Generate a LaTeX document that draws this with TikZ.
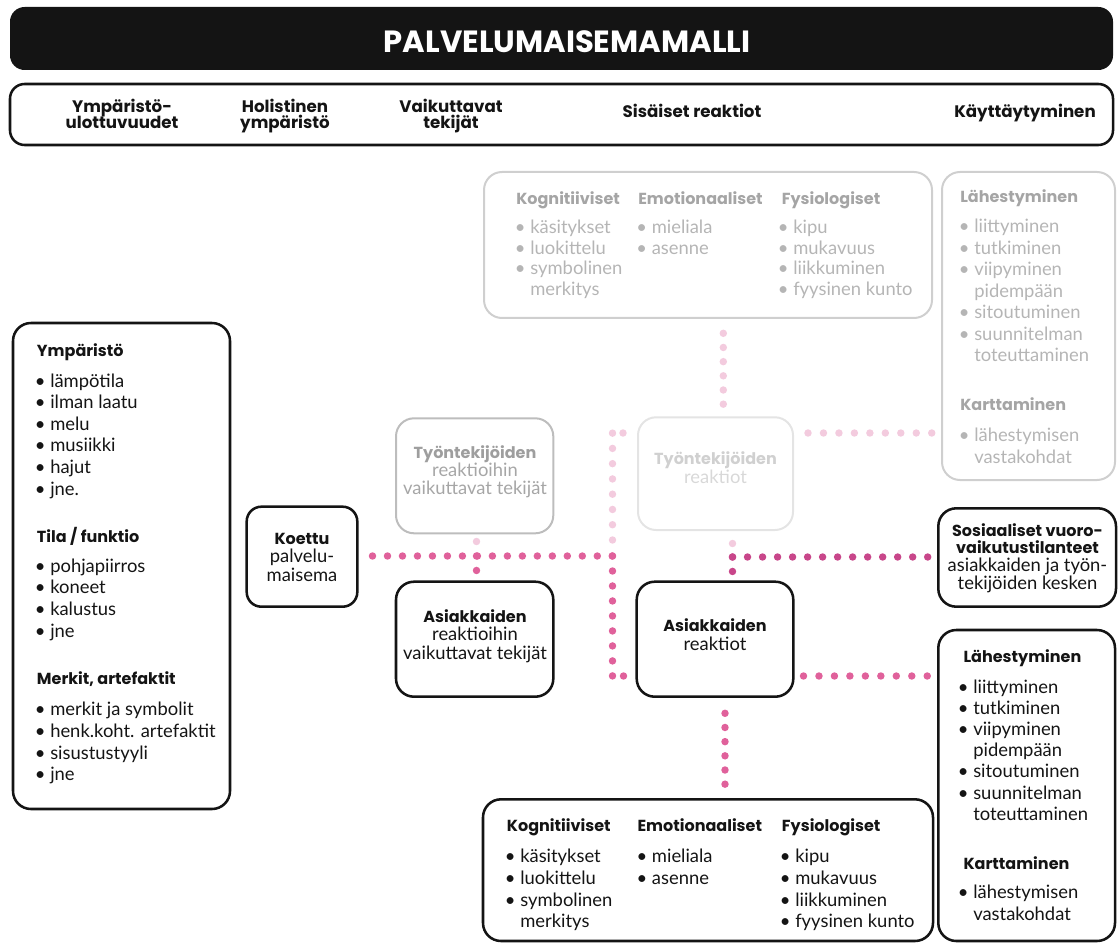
\documentclass[tikz,border=0pt]{standalone}
\usepackage{fontspec}
\setmainfont{Lato}
\newfontfamily\pop{Poppins}
\definecolor{ink}{HTML}{141414}
\definecolor{pinkA}{HTML}{E0619B}
\definecolor{pinkB}{HTML}{C8468A}
\definecolor{pinkL}{HTML}{F3CBDE}
\definecolor{gBorder}{HTML}{CFCFCF}
\definecolor{gHead}{HTML}{A5A5A5}
\definecolor{gText}{HTML}{B5B5B5}
\definecolor{gtBorder}{HTML}{BDBDBD}
\definecolor{gtHead}{HTML}{9E9E9E}
\definecolor{gtText}{HTML}{A6A6A6}
\definecolor{gxBorder}{HTML}{E4E4E4}
\definecolor{gxHead}{HTML}{D0D0D0}
\definecolor{gxText}{HTML}{D8D8D8}
\newcommand\bi[1]{\llap{•\hspace{3.5pt}}#1}
\newcommand\bx[6]{\node[#2, minimum width={(#5-#3)*0.75pt}, minimum height={(#6-#4)*0.75pt}, inner sep=0pt] (#1) at ({(#3+#5)/2},{(#4+#6)/2}) {};}
\newcommand\lst[6]{\foreach \itx [count=\i] in {#6} {\node[#1, anchor=base west] (#2\i) at (#3,{#4+(\i-1)*#5}) {\itx};}}
\begin{document}
\begin{tikzpicture}[x=0.75pt,y=-0.75pt,
  blackbox/.style={draw=ink, line width=1.9pt, rounded corners=13.5pt},
  graybox/.style={draw=gBorder, line width=1.5pt, rounded corners=13.5pt},
  gtbox/.style={draw=gtBorder, line width=1.5pt, rounded corners=13.5pt},
  gxbox/.style={draw=gxBorder, line width=1.5pt, rounded corners=13.5pt},
  hd/.style={font=\pop\bfseries\fontsize{12}{14}\selectfont, inner sep=0pt, text=ink},
  th/.style={font=\pop\bfseries\fontsize{12.5}{14}\selectfont, inner sep=0pt, text=ink, anchor=base},
  bd/.style={font=\fontsize{13.8}{16}\selectfont, inner sep=0pt, text=ink},
  dA/.style={draw=pinkA, line width=5.6pt, line cap=round, dash pattern=on 0pt off 11.2pt},
  dB/.style={draw=pinkB, line width=5.6pt, line cap=round, dash pattern=on 0pt off 11.2pt},
  dL/.style={draw=pinkL, line width=5.6pt, line cap=round, dash pattern=on 0pt off 11.2pt}]
\useasboundingbox (0,0) rectangle (1119,944);

% title
\bx{titlebar}{fill=ink, rounded corners=11pt}{10}{7}{1113}{70}
\node[font=\pop\bfseries\fontsize{23}{27}\selectfont, text=white, inner sep=0pt, anchor=base] (title) at (567,53) {PALVELUMAISEMAMALLI};

% header bar
\bx{header}{draw=ink, line width=1.9pt, rounded corners=11pt}{10}{84}{1113}{145}
\node[th] (h1a) at (122,112.5) {Ympäristö-};
\node[th] (h1b) at (122,128.5) {ulottuvuudet};
\node[th] (h2a) at (285,112.5) {Holistinen};
\node[th] (h2b) at (285,128.5) {ympäristö};
\node[th] (h3a) at (451,112.5) {Vaikuttavat};
\node[th] (h3b) at (451,128.5) {tekijät};
\node[th] (h4) at (692,117.5) {Sisäiset reaktiot};
\node[th] (h5) at (1025,118) {Käyttäytyminen};

% top gray box (employee internal reactions)
\bx{topgray}{graybox}{484}{172}{932}{318}
\node[hd, text=gHead, anchor=base west] (tk) at (516,205) {Kognitiiviset};
\node[hd, text=gHead, anchor=base west] (te) at (638,205) {Emotionaaliset};
\node[hd, text=gHead, anchor=base west] (tf) at (781.5,205) {Fysiologiset};
\lst{bd, text=gText}{tki}{530}{234}{20.5}{\bi{käsitykset},\bi{luokittelu},\bi{symbolinen},merkitys}
\lst{bd, text=gText}{tei}{651.5}{234}{20.5}{\bi{mieliala},\bi{asenne}}
\lst{bd, text=gText}{tfi}{793}{234}{20.5}{\bi{kipu},\bi{mukavuus},\bi{liikkuminen},\bi{fyysinen kunto}}

% right gray box (employee behaviour)
\bx{rightgray}{graybox}{942}{172}{1115}{480}
\node[hd, text=gHead, anchor=base west] (rl) at (960,202.5) {Lähestyminen};
\lst{bd, text=gText}{rli}{974}{233}{21.5}{\bi{liittyminen},\bi{tutkiminen},\bi{viipyminen},pidempään,\bi{sitoutuminen},\bi{suunnitelman},toteuttaminen}
\node[hd, text=gHead, anchor=base west] (rk) at (960,410.5) {Karttaminen};
\lst{bd, text=gText}{rki}{974}{441.5}{21.5}{\bi{lähestymisen},vastakohdat}

% left box
\bx{leftbox}{blackbox}{13}{323}{230}{809}
\node[hd, anchor=base west] (ly) at (36.7,357) {Ympäristö};
\lst{bd}{lyi}{50}{387.3}{21.55}{\bi{lämpötila},\bi{ilman laatu},\bi{melu},\bi{musiikki},\bi{hajut},\bi{jne.}}
\node[hd, anchor=base west] (lt) at (36.7,542.3) {Tila / funktio};
\lst{bd}{lti}{50}{572.3}{21.65}{\bi{pohjapiirros},\bi{koneet},\bi{kalustus},\bi{jne}}
\node[hd, anchor=base west] (lm) at (36.7,684) {Merkit, artefaktit};
\lst{bd}{lmi}{50}{715.7}{21.65}{\bi{merkit ja symbolit},\bi{henk.koht. artefaktit},\bi{sisustustyyli},\bi{jne}}

% Koettu palvelumaisema
\bx{koettu}{blackbox, rounded corners=11pt}{246.7}{506.7}{357.3}{606.7}
\node[hd, anchor=base] (ko1) at (302,544) {Koettu};
\node[bd, anchor=base] (ko2) at (302,562.5) {palvelu-};
\node[bd, anchor=base] (ko3) at (302,581) {maisema};

% Työntekijöiden reaktioihin vaikuttavat tekijät
\bx{tvt}{gtbox}{396}{418.3}{553.3}{533.3}
\node[hd, text=gtHead, anchor=base] (tv1) at (475,458.5) {Työntekijöiden};
\node[bd, text=gtText, anchor=base] (tv2) at (475,476.5) {reaktioihin};
\node[bd, text=gtText, anchor=base] (tv3) at (475,494.5) {vaikuttavat tekijät};

% Asiakkaiden reaktioihin vaikuttavat tekijät
\bx{avt}{blackbox}{396}{581.7}{553.3}{696.7}
\node[hd, anchor=base] (av1) at (475,622) {Asiakkaiden};
\node[bd, anchor=base] (av2) at (475,640.5) {reaktioihin};
\node[bd, anchor=base] (av3) at (475,659) {vaikuttavat tekijät};

% Työntekijöiden reaktiot
\bx{tr}{gxbox}{638}{417.3}{793}{530}
\node[hd, text=gxHead, anchor=base] (tr1) at (715.5,464) {Työntekijöiden};
\node[bd, text=gxText, anchor=base] (tr2) at (715.5,483) {reaktiot};

% Asiakkaiden reaktiot
\bx{ar}{blackbox}{636.7}{581.7}{793.3}{696.7}
\node[hd, anchor=base] (ar1) at (715,631.5) {Asiakkaiden};
\node[bd, anchor=base] (ar2) at (715,650) {reaktiot};

% Sosiaaliset vuorovaikutustilanteet
\bx{sos}{blackbox}{938.3}{508.3}{1116}{606.7}
\node[hd, anchor=base] (so1) at (1027.5,536) {Sosiaaliset vuoro-};
\node[hd, anchor=base] (so2) at (1027.5,553.5) {vaikutustilanteet};
\node[bd, anchor=base] (so3) at (1027.5,571.5) {asiakkaiden ja työn-};
\node[bd, anchor=base] (so4) at (1027.5,589) {tekijöiden kesken};

% Lähestyminen (customers)
\bx{lah}{blackbox}{938.3}{630}{1115}{941}
\node[hd, anchor=base west] (bl) at (963.3,662) {Lähestyminen};
\lst{bd}{bli}{973}{693.5}{21.1}{\bi{liittyminen},\bi{tutkiminen},\bi{viipyminen},pidempään,\bi{sitoutuminen},\bi{suunnitelman},toteuttaminen}
\node[hd, anchor=base west] (bk) at (963.3,869.5) {Karttaminen};
\lst{bd}{bki}{973}{898.5}{21.5}{\bi{lähestymisen},vastakohdat}

% bottom box (customer internal reactions)
\bx{bottom}{blackbox}{483}{799.3}{933}{941}
\node[hd, anchor=base west] (bk1) at (506.7,831.7) {Kognitiiviset};
\node[hd, anchor=base west] (be1) at (637.3,831.7) {Emotionaaliset};
\node[hd, anchor=base west] (bf1) at (781.7,831.7) {Fysiologiset};
\lst{bd}{bkk}{520}{862.7}{21.65}{\bi{käsitykset},\bi{luokittelu},\bi{symbolinen},merkitys}
\lst{bd}{bee}{651.7}{862.7}{21.65}{\bi{mieliala},\bi{asenne}}
\lst{bd}{bff}{795}{862.7}{21.65}{\bi{kipu},\bi{mukavuus},\bi{liikkuminen},\bi{fyysinen kunto}}

% ---- dotted connectors ----
\coordinate (r1s) at (372.5,556);
\coordinate (r1e) at (612.5,556);
\coordinate (v1b) at (612.5,676);
\coordinate (v1c) at (623.5,676);
\coordinate (v2s) at (612.5,540);
\coordinate (v2e) at (612.5,433);
\coordinate (v2c) at (623,433);
\coordinate (v3l) at (476.5,541.5);
\coordinate (v3s) at (476.5,556);
\coordinate (v3e) at (476.5,571);
\coordinate (v4s) at (723.3,333.3);
\coordinate (v4e) at (723.3,404.3);
\coordinate (r2s) at (808,433);
\coordinate (r2e) at (932,433);
\coordinate (v5l) at (732.5,543.5);
\coordinate (r3s) at (732.5,557);
\coordinate (r3e) at (928,557);
\coordinate (v5e) at (732.5,571.5);
\coordinate (r4s) at (803.5,676);
\coordinate (r4e) at (927.5,676);
\coordinate (v6s) at (725,713.3);
\coordinate (v6e) at (725,784.3);

% light (employee side)
\draw[dL, dash pattern=on 0pt off 11.45pt] (v2s) -- (v2e);
\draw[dL] (v2c) -- ++(0.01,0);
\draw[dL] (v3l) -- ++(0,0.01);
\draw[dL, dash pattern=on 0pt off 10.63pt] (v4s) -- (v4e);
\draw[dL, dash pattern=on 0pt off 11.6pt] (r2s) -- (r2e);
\draw[dL] (v5l) -- ++(0,0.01);
% customer side
\draw[dA, dash pattern=on 0pt off 11.24pt] (r1s) -- (r1e);
\draw[dA, dash pattern=on 0pt off 11.24pt] (r1e) -- (v1b);
\draw[dA] (v1c) -- ++(0.01,0);
\draw[dA, dash pattern=on 0pt off 10.85pt] (v3s) -- (v3e);
\draw[dB, dash pattern=on 0pt off 11.26pt] (r3s) -- (r3e);
\draw[dB, dash pattern=on 0pt off 10.85pt] (r3s) -- (v5e);
\draw[dA, dash pattern=on 0pt off 11.6pt] (r4s) -- (r4e);
\draw[dA, dash pattern=on 0pt off 10.63pt] (v6s) -- (v6e);
\end{tikzpicture}
\end{document}
